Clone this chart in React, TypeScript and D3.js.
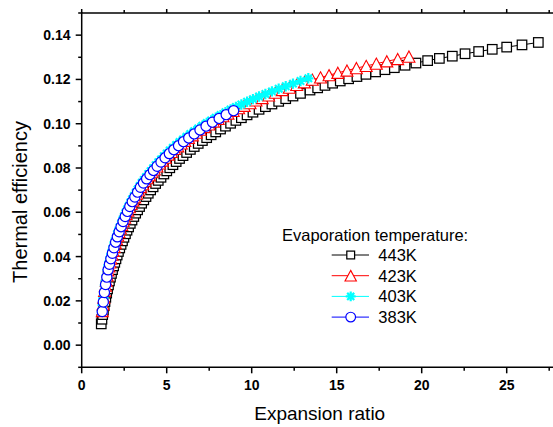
import React from 'react';
import * as d3 from 'd3';

// ---- data (expansion ratio, thermal efficiency) ----
const r443 = [1.150,1.191,1.234,1.278,1.323,1.370,1.419,1.470,1.522,1.576,
1.632,1.691,1.751,1.813,1.878,1.945,2.014,2.086,2.160,2.237,
2.316,2.399,2.484,2.573,2.665,2.759,2.858,2.959,3.065,3.174,
3.287,3.404,3.525,3.651,3.781,3.916,4.055,4.200,4.349,4.504,
4.665,4.831,5.003,5.181,5.366,5.557,5.755,5.960,6.172,6.392,
6.619,6.855,7.099,7.352,7.614,7.885,8.166,8.457,8.758,9.070,
9.393,9.728,10.074,10.433,10.805,11.190,11.588,12.001,12.429,12.871,
13.43,13.88,14.31,14.76,15.21,15.70,16.19,16.72,17.29,17.84,18.39,19.02,19.66,20.35,21.04,21.80,22.55,23.35,24.15,25.00,25.90,26.86];
const e443 = [0.0096,0.0117,0.0138,0.0158,0.0178,0.0197,0.0216,0.0235,0.0254,0.0272,
0.0290,0.0307,0.0324,0.0341,0.0358,0.0374,0.0390,0.0407,0.0423,0.0439,
0.0455,0.0471,0.0487,0.0503,0.0519,0.0534,0.0550,0.0565,0.0581,0.0596,
0.0611,0.0626,0.0641,0.0656,0.0671,0.0686,0.0701,0.0715,0.0730,0.0744,
0.0758,0.0773,0.0787,0.0801,0.0815,0.0829,0.0843,0.0856,0.0870,0.0884,
0.0897,0.0911,0.0924,0.0937,0.0950,0.0963,0.0976,0.0989,0.1002,0.1015,
0.1027,0.1040,0.1052,0.1065,0.1077,0.1089,0.1101,0.1113,0.1125,0.1137,
0.1152,0.1162,0.1173,0.1183,0.1193,0.1203,0.1213,0.1223,0.1234,0.1244,0.1253,0.1264,0.1274,0.1285,0.1295,0.1305,0.1316,0.1326,0.1336,0.1346,0.1356,0.1367];

const r423 = [1.212,1.256,1.300,1.347,1.395,1.444,1.496,1.549,1.604,
1.661,1.720,1.782,1.845,1.911,1.979,2.049,2.122,2.198,2.276,
2.357,2.441,2.528,2.618,2.712,2.808,2.908,3.012,3.119,3.230,
3.345,3.464,3.588,3.716,3.848,3.985,4.127,4.274,4.426,4.584,
4.747,4.916,5.091,5.273,5.460,5.655,5.856,6.065,6.281,6.505,
6.736,6.976,7.225,7.482,7.749,8.025,8.310,8.606,8.913,9.230,
9.559,9.900,10.252,10.618,10.996,11.387,11.793,12.213,12.648,13.099,
13.565,14.048,14.549,15.067,15.604,16.159,16.735,17.331,17.948,18.588,19.250];
const e423 = [0.0154,0.0184,0.0215,0.0245,0.0269,0.0292,0.0315,0.0338,0.0356,
0.0374,0.0391,0.0409,0.0426,0.0444,0.0461,0.0479,0.0495,0.0511,0.0527,
0.0543,0.0560,0.0576,0.0592,0.0608,0.0623,0.0638,0.0653,0.0668,0.0684,
0.0699,0.0714,0.0727,0.0741,0.0754,0.0767,0.0781,0.0794,0.0807,0.0821,
0.0834,0.0847,0.0861,0.0873,0.0886,0.0898,0.0911,0.0923,0.0936,0.0948,
0.0960,0.0973,0.0985,0.0997,0.1010,0.1022,0.1034,0.1046,0.1058,0.1070,
0.1081,0.1093,0.1105,0.1116,0.1128,0.1140,0.1152,0.1163,0.1175,0.1187,
0.1199,0.1209,0.1219,0.1230,0.1240,0.1251,0.1261,0.1271,0.1282,0.1292,0.1303];

const r403 = [1.191,1.234,1.278,1.323,1.370,1.419,1.470,1.522,1.576,
1.632,1.691,1.751,1.813,1.878,1.945,2.014,2.086,2.160,2.237,
2.316,2.399,2.484,2.573,2.665,2.759,2.858,2.959,3.065,3.174,
3.287,3.404,3.525,3.651,3.781,3.916,4.055,4.200,4.349,4.504,
4.665,4.831,5.003,5.181,5.366,5.557,5.755,5.960,6.172,6.392,
6.619,6.855,7.099,7.352,7.614,7.885,8.166,8.457,8.758,9.070,
9.393,9.728,10.074,10.433,10.805,11.190,11.588,12.001,12.429,12.871,13.330];
const e403 = [0.0151,0.0181,0.0212,0.0242,0.0269,0.0292,0.0315,0.0339,0.0360,0.0377,
0.0395,0.0412,0.0430,0.0447,0.0465,0.0482,0.0499,0.0515,0.0531,0.0547,
0.0563,0.0580,0.0596,0.0612,0.0627,0.0643,0.0658,0.0673,0.0688,0.0703,
0.0718,0.0733,0.0746,0.0759,0.0773,0.0786,0.0799,0.0813,0.0826,0.0839,
0.0853,0.0866,0.0879,0.0892,0.0904,0.0917,0.0929,0.0941,0.0954,0.0966,
0.0979,0.0991,0.1003,0.1015,0.1027,0.1039,0.1052,0.1064,0.1076,0.1087,
0.1099,0.1111,0.1123,0.1134,0.1146,0.1158,0.1169,0.1181,0.1193,0.1205];

const r383 = [1.209,1.271,1.336,1.405,1.477,1.553,1.632,1.716,1.804,1.897,
1.994,2.096,2.203,2.316,2.435,2.560,2.691,2.829,2.974,3.127,
3.287,3.456,3.633,3.819,4.015,4.221,4.437,4.665,4.904,5.155,
5.420,5.697,5.989,6.297,6.619,6.959,7.316,7.691,8.085,8.499,8.935];
const e383 = [0.0152,0.0195,0.0238,0.0274,0.0307,0.0340,0.0365,0.0390,0.0415,0.0440,
0.0465,0.0489,0.0512,0.0535,0.0558,0.0581,0.0604,0.0626,0.0648,0.0669,
0.0691,0.0713,0.0732,0.0751,0.0770,0.0789,0.0808,0.0827,0.0846,0.0865,
0.0883,0.0901,0.0919,0.0936,0.0954,0.0972,0.0989,0.1007,0.1024,0.1041,0.1059];

const seriesNames = ['443K', '423K', '403K', '383K'];
const seriesColors = ['#000000', '#ff0000', '#00ffff', '#0000ff'];
const seriesSymbols = ['square', 'triangle', 'star', 'circle'];
const seriesX = [r443, r423, r403, r383];
const seriesY = [e443, e423, e403, e383];

const xMajor = [0, 5, 10, 15, 20, 25];
const xMinor = [2.5, 7.5, 12.5, 17.5, 22.5, 27.5];
const yMajor = [0, 0.02, 0.04, 0.06, 0.08, 0.10, 0.12, 0.14];
const yMinor = [-0.01, 0.01, 0.03, 0.05, 0.07, 0.09, 0.11, 0.13, 0.15];

const FONT = '"Liberation Sans", Arial, Helvetica, sans-serif';

function Marker({ type, cx, cy, color, scale = 1 }: { type: string; cx: number; cy: number; color: string; scale?: number }) {
  if (type === 'square') {
    const s = 9.5 * scale;
    return <rect x={cx - s / 2} y={cy - s / 2} width={s} height={s} fill="#fff" stroke={color} strokeWidth={1.25} />;
  }
  if (type === 'triangle') {
    const w = 6 * scale, h = 5.6 * scale;
    return <path d={`M${cx},${cy - h}L${cx + w},${cy + h}L${cx - w},${cy + h}Z`} fill="#fff" stroke={color} strokeWidth={1.1} />;
  }
  if (type === 'circle') {
    return <circle cx={cx} cy={cy} r={5.1 * scale} fill="#fff" stroke={color} strokeWidth={1.2} />;
  }
  const a = 5.2 * scale, b = 3.7 * scale;
  return (
    <path
      d={`M${cx},${cy - a}V${cy + a}M${cx - a},${cy}H${cx + a}M${cx - b},${cy - b}L${cx + b},${cy + b}M${cx - b},${cy + b}L${cx + b},${cy - b}`}
      stroke={color}
      strokeWidth={2.2}
      fill="none"
    />
  );
}

export default function App() {
  const x = d3.scaleLinear().domain([0, 28]).range([81.7, 557.7]);
  const y = d3.scaleLinear().domain([-0.01, 0.15]).range([367.3, 13]);
  const [x0, x1] = x.range();
  const [yb, yt] = y.range();
  const line = d3.line<[number, number]>().x(d => x(d[0])).y(d => y(d[1]));

  const legendX = 350.7;
  const legendY0 = 255;
  const legendDy = 20.7;

  return (
    <div style={{ position: 'fixed', left: 0, top: 0, width: 553, height: 427, background: '#fff' }}>
      <svg width={553} height={427} style={{ display: 'block' }} fontFamily={FONT}>
        <rect x={0} y={0} width={553} height={427} fill="#fff" />
        {/* series */}
        {seriesX.map((xs, i) => {
          const pts = xs.map((v, j) => [v, seriesY[i][j]] as [number, number]);
          return (
            <g key={seriesNames[i]}>
              <path d={line(pts) || ''} fill="none" stroke={seriesColors[i]} strokeWidth={1} />
              {pts.map((p, j) => (
                <Marker key={j} type={seriesSymbols[i]} cx={x(p[0])} cy={y(p[1])} color={seriesColors[i]} />
              ))}
            </g>
          );
        })}
        {/* frame */}
        <g stroke="#000" strokeWidth={1.5} fill="none">
          <line x1={x0} y1={yb} x2={x1} y2={yb} />
          <line x1={x0} y1={yt} x2={x1} y2={yt} />
          <line x1={x0} y1={yb + 0.75} x2={x0} y2={yt - 0.75} />
          <line x1={x1} y1={yb + 0.75} x2={x1} y2={yt - 0.75} />
          {xMajor.map(v => (
            <g key={'xm' + v}>
              <line x1={x(v)} x2={x(v)} y1={yb} y2={yb + 6} />
              <line x1={x(v)} x2={x(v)} y1={yt} y2={yt - 4} />
            </g>
          ))}
          {xMinor.map(v => (
            <g key={'xn' + v}>
              <line x1={x(v)} x2={x(v)} y1={yb} y2={yb + 3.5} />
              <line x1={x(v)} x2={x(v)} y1={yt} y2={yt - 3} />
            </g>
          ))}
          {yMajor.map(v => (
            <line key={'ym' + v} x1={x0} x2={x0 - 6} y1={y(v)} y2={y(v)} />
          ))}
          {yMinor.map(v => (
            <line key={'yn' + v} x1={x0} x2={x0 - 3.5} y1={y(v)} y2={y(v)} />
          ))}
        </g>
        {/* tick labels */}
        <g fontSize={14} fontWeight="bold" fill="#000">
          {xMajor.map(v => (
            <text key={'xl' + v} x={x(v)} y={390} textAnchor="middle">{v}</text>
          ))}
          {yMajor.map(v => (
            <text key={'yl' + v} x={70.5} y={y(v) + 5} textAnchor="end">{v.toFixed(2)}</text>
          ))}
        </g>
        {/* axis titles */}
        <text x={(x0 + x1) / 2} y={420} textAnchor="middle" fontSize={19} fill="#000">Expansion ratio</text>
        <text transform={`translate(27,202) rotate(-90)`} textAnchor="middle" fontSize={20} fill="#000">Thermal efficiency</text>
        {/* legend */}
        <text x={282} y={240.7} fontSize={16.5} fill="#000">Evaporation temperature:</text>
        {seriesNames.map((n, i) => {
          const cy = legendY0 + i * legendDy;
          return (
            <g key={'lg' + n}>
              <line x1={331.7} x2={369} y1={cy} y2={cy} stroke={seriesColors[i]} strokeWidth={1} />
              <Marker type={seriesSymbols[i]} cx={legendX} cy={cy} color={seriesColors[i]} scale={seriesSymbols[i] === 'square' ? 0.82 : 0.95} />
              <text x={378.3} y={cy + 6} fontSize={16.5} fill="#000">{n}</text>
            </g>
          );
        })}
      </svg>
    </div>
  );
}
